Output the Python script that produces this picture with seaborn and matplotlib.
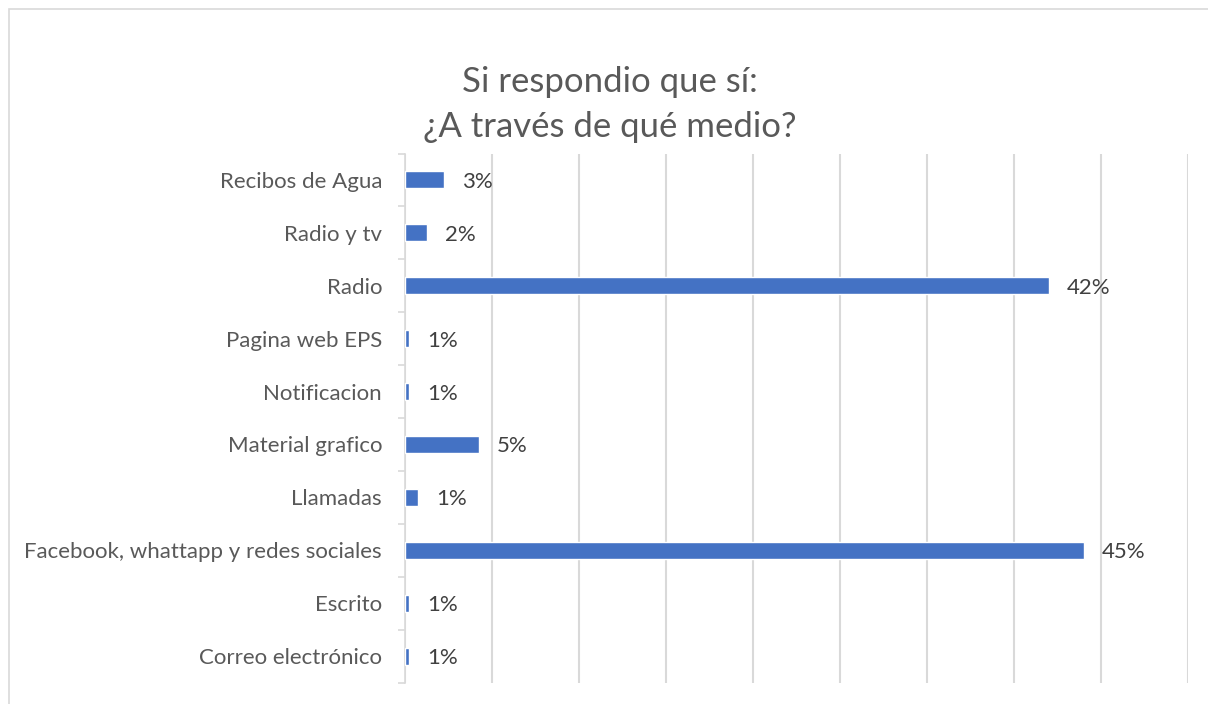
import matplotlib
matplotlib.use("Agg")
import matplotlib.pyplot as plt
import pandas as pd
import seaborn as sns
from matplotlib.patches import Rectangle

# categorias de arriba hacia abajo, como en el grafico original
medios = ["Recibos de Agua", "Radio y tv", "Radio", "Pagina web EPS", "Notificacion",
          "Material grafico", "Llamadas", "Facebook, whattapp y redes sociales",
          "Escrito", "Correo electrónico"]
# largo de las barras (respuestas)
respuestas = [9, 5, 148, 1, 1, 17, 3, 156, 1, 1]
# etiquetas tal como aparecen en las barras
etiquetas = ["3%", "2%", "42%", "1%", "1%", "5%", "1%", "45%", "1%", "1%"]

df = pd.DataFrame({"medio": medios, "respuestas": respuestas})

sns.set_style("white")
plt.rcParams["font.family"] = ["Lato", "DejaVu Sans"]

fig = plt.figure(figsize=(12.08, 7.04), dpi=100)
ax = fig.add_axes([405 / 1208, 1 - 682.5 / 704, (1188 - 405) / 1208, (682.5 - 153.5) / 704])

sns.barplot(data=df, x="respuestas", y="medio", orient="h", order=medios,
            color="#4472C4", saturation=1, width=0.32, ax=ax, zorder=3)

ax.set_xlim(0, 180)
ax.set_xticks(range(0, 181, 20))
ax.xaxis.grid(True, color="#D9D9D9", linewidth=1.5, zorder=0)
ax.tick_params(axis="x", length=0, labelbottom=False)
ax.set_xlabel("")
ax.set_ylabel("")

# ticks del eje de categorias entre filas
ax.set_yticks(range(len(medios)))
ax.set_yticks([i - 0.5 for i in range(len(medios) + 1)], minor=True)
ax.tick_params(axis="y", which="major", length=0, pad=16.5, labelsize=16, labelcolor="#595959")
ax.tick_params(axis="y", which="minor", length=5, width=1.2, color="#D9D9D9", left=True)
ax.set_ylim(len(medios) - 0.5, -0.5)
for lbl in ax.get_yticklabels():
    lbl.set_va("center_baseline")

for side in ["top", "right", "bottom"]:
    ax.spines[side].set_visible(False)
ax.spines["left"].set_color("#D9D9D9")
ax.spines["left"].set_linewidth(1.2)

for i, (v, t) in enumerate(zip(respuestas, etiquetas)):
    ax.annotate(t, (v, i), xytext=(13, 0), textcoords="offset points",
                va="center_baseline", ha="left", fontsize=16, color="#404040")

fig.text(0.505, 1 - 82 / 704, "Si respondio que sí:", ha="center", va="center",
         fontsize=25, color="#595959")
fig.text(0.505, 1 - 127 / 704, "¿A través de qué medio?", ha="center", va="center",
         fontsize=25, color="#595959")

fig.patches.append(Rectangle((8.5 / 1208, -0.05), 1.1, 1 - 9 / 704 + 0.05,
                             transform=fig.transFigure, fill=False,
                             edgecolor="#D9D9D9", linewidth=1.2))

fig.savefig("out.png", dpi=100, facecolor="white")
